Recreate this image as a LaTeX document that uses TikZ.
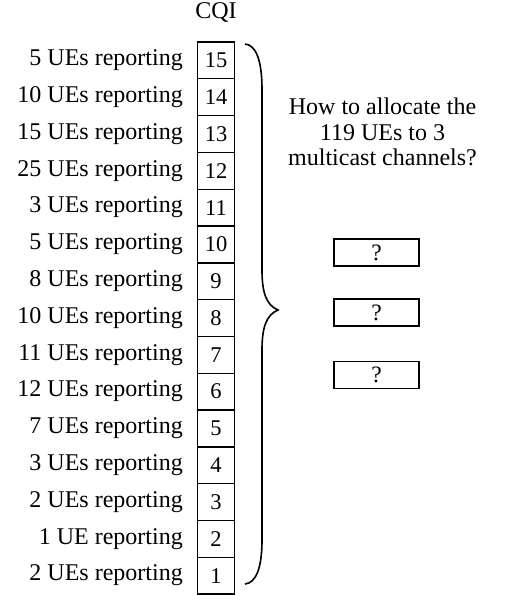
\documentclass[tikz,border=0pt]{standalone}
\usepackage{fontspec}
\setmainfont{Liberation Serif}
\begin{document}
\begin{tikzpicture}[x=1pt,y=-1pt,
  cell/.style={draw,line width=1.4pt,minimum width=37.5pt,minimum height=36.8pt,inner sep=0pt,font=\fontsize{22.5}{24}\selectfont},
  lbl/.style={anchor=east,inner sep=0pt,font=\fontsize{24}{26}\selectfont},
  qbox/.style={draw,line width=1.4pt,minimum width=85pt,minimum height=27pt,inner sep=0pt,font=\fontsize{23.5}{24}\selectfont},
  txt/.style={font=\fontsize{24}{25.5}\selectfont,align=center,inner sep=0pt}]
\useasboundingbox (0,0) rectangle (506,596);
\node[font=\fontsize{24}{26}\selectfont] (cqi) at (216,13) {CQI};
% CQI column with the number of reporting UEs
\foreach \c/\n [count=\k from 0] in {15/5 UEs,14/10 UEs,13/15 UEs,12/25 UEs,11/3 UEs,10/5 UEs,9/8 UEs,8/10 UEs,7/11 UEs,6/12 UEs,5/7 UEs,4/3 UEs,3/2 UEs,2/1 UE,1/2 UEs}{
  \node[cell] (c\c) at (216,{42+36.8*(\k+0.5)}) {\c};
  \node[lbl] (l\c) at (183,{42+36.8*(\k+0.5)}) {\n\ reporting};
}
% brace over the whole column
\draw[line width=1.6pt] (245,44) .. controls (256,45) and (262,60) .. (262,90)
  -- (262,270) .. controls (262,292) and (266,305) .. (278,310)
  .. controls (266,315) and (262,328) .. (262,350)
  -- (262,540) .. controls (262,568) and (256,583) .. (245,584);
\node[txt] (q) at (382.5,132) {How to allocate the\\119 UEs to 3\\multicast channels?};
\node[qbox] (m1) at (376.5,252.5) {?};
\node[qbox] (m2) at (376.5,312.5) {?};
\node[qbox] (m3) at (376.5,375) {?};
\end{tikzpicture}
\end{document}
